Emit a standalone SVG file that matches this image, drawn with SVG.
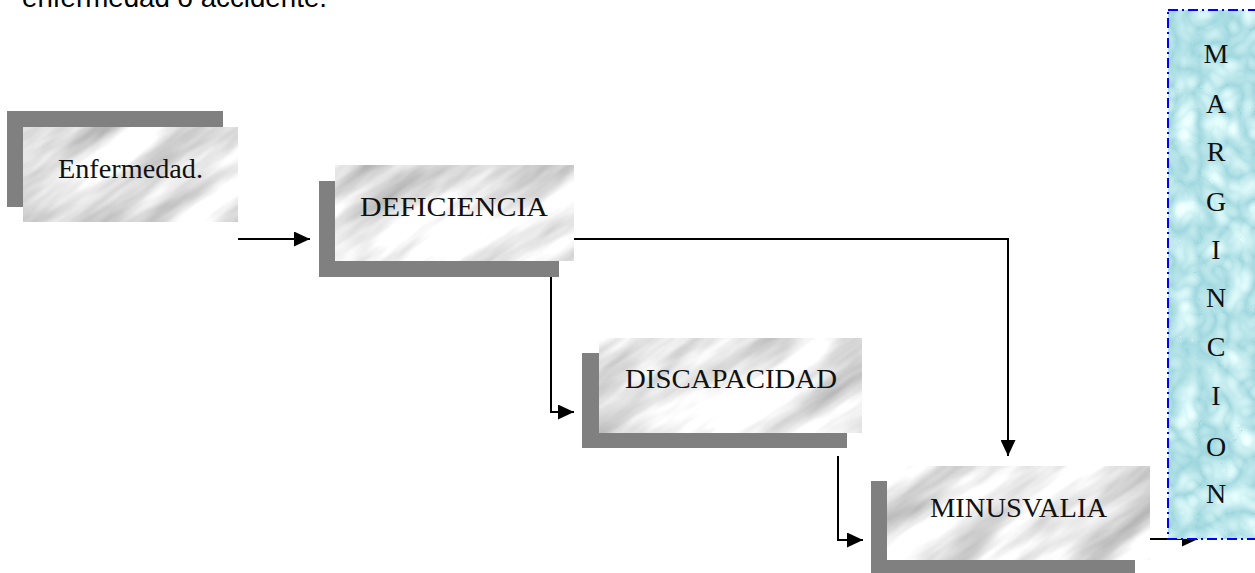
<svg xmlns="http://www.w3.org/2000/svg" width="1255" height="573" viewBox="0 0 1255 573">
<style>
.shadow{fill:#808080}
.marble{fill:url(#marble)}
.lbl{font-family:"Liberation Serif","Times New Roman",serif;font-size:28px;fill:#111;text-anchor:middle}
.conn{fill:none;stroke:#000;stroke-width:2;marker-end:url(#arrow)}
.top{font-family:"Liberation Sans",Arial,sans-serif;font-size:28px;fill:#000}
</style>
<defs>
<filter id="fMarble" x="0" y="0" width="600" height="600" filterUnits="userSpaceOnUse" color-interpolation-filters="sRGB">
<feTurbulence type="fractalNoise" baseFrequency="0.006 0.028" numOctaves="4" seed="11" stitchTiles="stitch"/>
<feColorMatrix type="matrix" values="-0.65 0 0 0 1.24  -0.65 0 0 0 1.24  -0.65 0 0 0 1.24  0 0 0 0 1"/>
</filter>
<pattern id="marble" patternUnits="userSpaceOnUse" width="600" height="600" patternTransform="rotate(-35)">
<rect width="600" height="600" filter="url(#fMarble)"/>
</pattern>
<filter id="fBubble" x="0" y="0" width="300" height="600" filterUnits="userSpaceOnUse" color-interpolation-filters="sRGB">
<feTurbulence type="turbulence" baseFrequency="0.035" numOctaves="2" seed="4" stitchTiles="stitch"/>
<feColorMatrix type="matrix" values="0.45 0 0 0 0.62  0.25 0 0 0 0.84  0.2 0 0 0 0.87  0 0 0 0 1"/>
</filter>
<pattern id="bubble" patternUnits="userSpaceOnUse" width="300" height="600">
<rect width="300" height="600" filter="url(#fBubble)"/>
</pattern>
<marker id="arrow" viewBox="0 0 16 15" refX="16" refY="7.5" markerWidth="16" markerHeight="15" markerUnits="userSpaceOnUse" orient="auto">
<path d="M0,0 L16,7.5 L0,15 z" fill="#000"/>
</marker>
</defs>
<rect width="1255" height="573" fill="#fff"/>
<text class="top" x="22" y="7" textLength="305" lengthAdjust="spacingAndGlyphs">enfermedad o accidente.</text>

<g id="connectors">
<path class="conn" d="M238,239 H310"/>
<path class="conn" d="M574,239 H1008 V456"/>
<path class="conn" d="M551,277 V412 H574"/>
<path class="conn" d="M838,456 V540 H863"/>
<path class="conn" d="M1150,539 H1198"/>
</g>

<g id="enfermedad">
<rect class="shadow" x="7" y="111" width="216" height="96"/>
<rect class="marble" x="23" y="127" width="215" height="95"/>
<text class="lbl" x="130.5" y="178" textLength="145" lengthAdjust="spacingAndGlyphs">Enfermedad.</text>
</g>

<g id="deficiencia">
<rect class="shadow" x="319" y="181" width="240" height="96"/>
<rect class="marble" x="335" y="165" width="239" height="96"/>
<text class="lbl" x="454" y="216" textLength="188" lengthAdjust="spacingAndGlyphs">DEFICIENCIA</text>
</g>

<g id="discapacidad">
<rect class="shadow" x="582" y="353" width="265" height="95"/>
<rect class="marble" x="599" y="338" width="263" height="95"/>
<text class="lbl" x="731" y="388" textLength="212" lengthAdjust="spacingAndGlyphs">DISCAPACIDAD</text>
</g>

<g id="minusvalia">
<rect class="shadow" x="871" y="481" width="264" height="92"/>
<rect class="marble" x="887" y="466" width="263" height="94"/>
<text class="lbl" x="1018.5" y="517" textLength="177" lengthAdjust="spacingAndGlyphs">MINUSVALIA</text>
</g>

<g id="marginacion">
<rect x="1168" y="10" width="100" height="529" fill="url(#bubble)" stroke="#0000ff" stroke-width="2" stroke-dasharray="10 4 2 4"/>
<text class="lbl" x="1216" y="63">M</text>
<text class="lbl" x="1216" y="113">A</text>
<text class="lbl" x="1216" y="161">R</text>
<text class="lbl" x="1216" y="211">G</text>
<text class="lbl" x="1216" y="259">I</text>
<text class="lbl" x="1216" y="307">N</text>
<text class="lbl" x="1216" y="356">C</text>
<text class="lbl" x="1216" y="405">I</text>
<text class="lbl" x="1216" y="456">O</text>
<text class="lbl" x="1216" y="503">N</text>
</g>
</svg>
